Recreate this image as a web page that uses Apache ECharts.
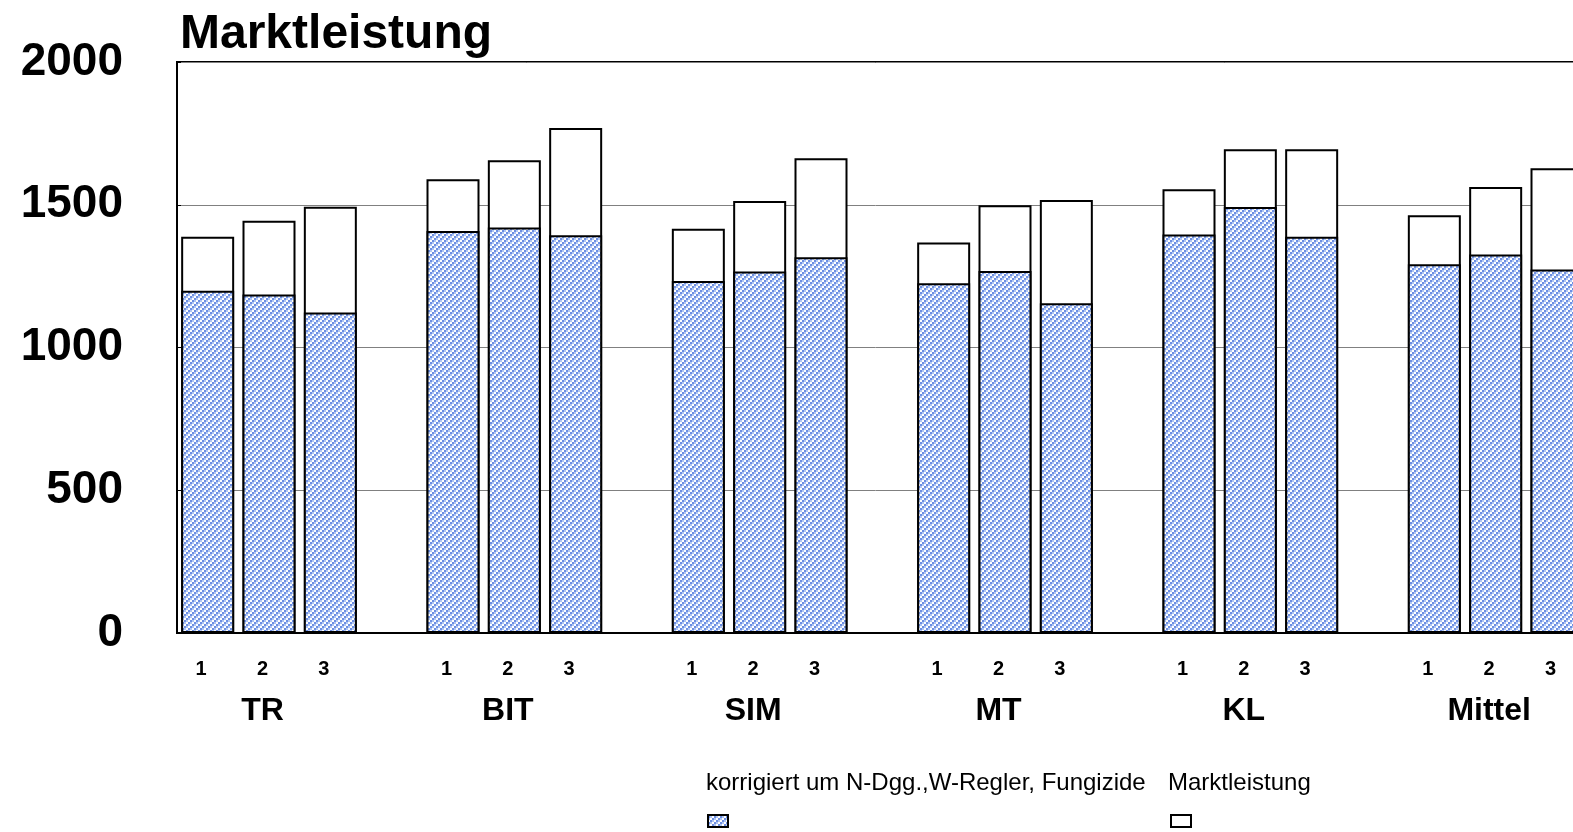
<!DOCTYPE html>
<html>
<head>
<meta charset="utf-8">
<script src="https://cdn.jsdelivr.net/npm/echarts@6/dist/echarts.min.js"></script>
<style>
  html, body { margin: 0; padding: 0; background: #fff; }
  #chart { width: 1573px; height: 832px; }
</style>
</head>
<body>
<div id="chart"></div>
<script>
// ---- data ----
var groups = ['TR', 'BIT', 'SIM', 'MT', 'KL', 'Mittel'];
var variants = ['1', '2', '3'];
var marktleistung = [1388, 1444, 1493, 1589, 1656, 1769, 1416, 1513, 1663, 1368, 1498, 1517, 1554, 1694, 1694, 1463, 1562, 1628];
var korrigiert = [1199, 1186, 1123, 1408, 1420, 1393, 1233, 1266, 1316, 1225, 1268, 1155, 1396, 1492, 1388, 1292, 1326, 1273];
var yTicks = [0, 500, 1000, 1500, 2000];
var seriesNames = ['korrigiert um N-Dgg.,W-Regler, Fungizide', 'Marktleistung'];

// ---- build category slots (3 bars + 1 blank per group) ----
var cats = [], mData = [], kData = [];
groups.forEach(function (g, gi) {
  variants.forEach(function (v, vi) {
    cats.push(g + '|' + v);
    mData.push(marktleistung[gi * 3 + vi]);
    kData.push(korrigiert[gi * 3 + vi]);
  });
  cats.push(g + '|');
  mData.push('-');
  kData.push('-');
});

// ---- hatch pattern (2px blocks, diagonal) ----
var pc = document.createElement('canvas');
pc.width = 6; pc.height = 6;
var px = pc.getContext('2d');
var shades = ['#6d8fe3', '#b0c6f3', '#ffffff'];
for (var by = 0; by < 3; by++) {
  for (var bx = 0; bx < 3; bx++) {
    px.fillStyle = shades[(bx + by) % 3];
    px.fillRect(bx * 2, by * 2, 2, 2);
  }
}
var pattern = { image: pc, repeat: 'repeat' };

var FONT = 'Liberation Sans, Arial, sans-serif';

var chart = echarts.init(document.getElementById('chart'), null, { renderer: 'canvas' });
chart.setOption({
  animation: false,
  backgroundColor: '#ffffff',
  title: {
    text: 'Marktleistung',
    left: 175, top: 6,
    textStyle: { fontFamily: FONT, fontSize: 48, fontWeight: 'bold', color: '#000' }
  },
  grid: {
    left: 177, top: 62, width: 1472, height: 571,
    outerBoundsMode: 'none',
    containLabel: false,
    show: true, borderColor: '#000', borderWidth: 2, backgroundColor: 'transparent'
  },
  xAxis: {
    type: 'category',
    data: cats,
    axisLine: { lineStyle: { color: '#000', width: 2 } },
    axisTick: { show: false },
    axisLabel: {
      interval: 0,
      margin: 25,
      padding: [0, 13, 0, 0],
      formatter: function (val) {
        var p = val.split('|');
        if (!p[1]) return '';
        if (p[1] === '2') return '{n|2}\n{g|' + p[0] + '}';
        return '{n|' + p[1] + '}';
      },
      rich: {
        n: { fontFamily: FONT, fontSize: 20, fontWeight: 'bold', color: '#000', lineHeight: 22 },
        g: { fontFamily: FONT, fontSize: 32, fontWeight: 'bold', color: '#000', lineHeight: 63 }
      }
    }
  },
  yAxis: {
    type: 'value',
    min: yTicks[0], max: yTicks[yTicks.length - 1], interval: yTicks[1] - yTicks[0],
    axisLine: { show: true, lineStyle: { color: '#000', width: 2 } },
    axisTick: { show: true, inside: true, length: 4, lineStyle: { color: '#000' } },
    splitLine: { show: true, lineStyle: { color: '#808080', width: 1 } },
    axisLabel: {
      margin: 54,
      formatter: function (v) { return String(v); },
      fontFamily: FONT, fontSize: 46, fontWeight: 'bold', color: '#000'
    }
  },
  series: [
    {
      name: seriesNames[1], type: 'bar', data: mData, barWidth: 53, barGap: '-100%',
      itemStyle: { color: '#ffffff', borderColor: '#000', borderWidth: 2 }
    },
    {
      name: seriesNames[0], type: 'bar', data: kData, barWidth: 53, barGap: '-100%',
      itemStyle: { color: pattern, borderColor: '#000', borderWidth: 2 }
    }
  ],
  graphic: [
    { type: 'text', left: 706, top: 771, style: { text: seriesNames[0], font: '24px "Liberation Sans", Arial, sans-serif', fill: '#000' } },
    { type: 'rect', shape: { x: 708, y: 815, width: 20, height: 12 }, style: { fill: pattern, stroke: '#000', lineWidth: 2 } },
    { type: 'text', left: 1168, top: 771, style: { text: seriesNames[1], font: '24px "Liberation Sans", Arial, sans-serif', fill: '#000' } },
    { type: 'rect', shape: { x: 1171, y: 815, width: 20, height: 12 }, style: { fill: '#ffffff', stroke: '#000', lineWidth: 2 } }
  ]
});
</script>
</body>
</html>
